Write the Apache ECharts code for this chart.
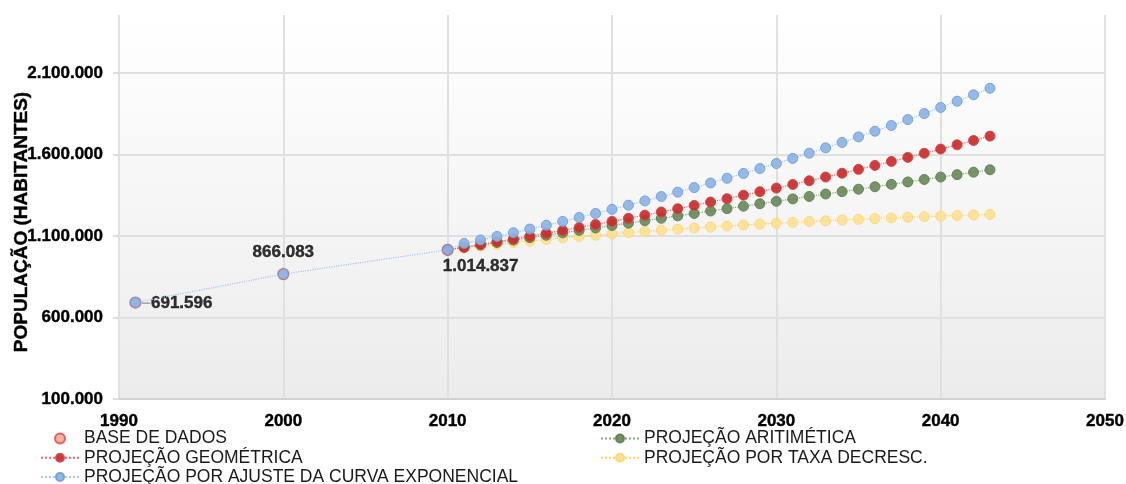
<!DOCTYPE html>
<html>
<head>
<meta charset="utf-8">
<script src="https://cdn.jsdelivr.net/npm/echarts@6/dist/echarts.min.js"></script>
<style>
html,body{margin:0;padding:0;background:#fff;}
#c{width:1126px;height:484px;}
</style>
</head>
<body>
<div id="c"></div>
<script>
// ---- data ----
const baseYears = [1991, 2000, 2010];
const baseValues = [691596, 866083, 1014837];

const projYears = [2010, 2011, 2012, 2013, 2014, 2015, 2016, 2017, 2018, 2019, 2020,
  2021, 2022, 2023, 2024, 2025, 2026, 2027, 2028, 2029, 2030,
  2031, 2032, 2033, 2034, 2035, 2036, 2037, 2038, 2039, 2040, 2041, 2042, 2043];

const geomValues = [1014837, 1031051, 1047524, 1064260, 1081263, 1098538, 1116089, 1133920, 1152036, 1170442, 1189141,
  1208140, 1227442, 1247053, 1266977, 1287219, 1307785, 1328679, 1349907, 1371474, 1393380,
  1415642, 1438259, 1461238, 1484584, 1508303, 1532401, 1556884, 1581758, 1607030, 1632687,
  1658763, 1685265, 1712190];

const aritValues = [1014837, 1029712, 1044588, 1059463, 1074339, 1089214, 1104089, 1118965, 1133840, 1148716, 1163591,
  1178466, 1193342, 1208217, 1223093, 1237968, 1252843, 1267719, 1282594, 1297470, 1312345,
  1327220, 1342096, 1356971, 1371847, 1386722, 1401597, 1416473, 1431348, 1446224, 1461099,
  1475974, 1490850, 1505725];

const taxaValues = [1014837, 1026487, 1037676, 1048423, 1058747, 1068662, 1078186, 1087334, 1096120, 1104560, 1112666,
  1120453, 1127931, 1135115, 1142014, 1148642, 1155007, 1161121, 1166994, 1172635, 1178053,
  1183257, 1188256, 1193057, 1197668, 1202098, 1206352, 1210439, 1214364, 1218134, 1221756,
  1225234, 1228575, 1231784];

const expYears = [1991, 2000, 2010, 2011, 2012, 2013, 2014, 2015, 2016, 2017, 2018, 2019, 2020,
  2021, 2022, 2023, 2024, 2025, 2026, 2027, 2028, 2029, 2030,
  2031, 2032, 2033, 2034, 2035, 2036, 2037, 2038, 2039, 2040, 2041, 2042, 2043];
const expValues = [691596, 866083, 1014837, 1053917, 1075319, 1097156, 1119436, 1142168, 1165362, 1189026, 1213171, 1237808, 1262944,
  1288590, 1314757, 1341455, 1368696, 1396490, 1424848, 1453782, 1483304, 1513425, 1544158,
  1575515, 1607508, 1640152, 1673459, 1707442, 1742115, 1777492, 1813587, 1850416, 1887993,
  1926333, 1965450, 2005362];

const yTicks = [100000, 600000, 1100000, 1600000, 2100000];
const xTicks = [1990, 2000, 2010, 2020, 2030, 2040, 2050];

const names = {
  base: 'BASE DE DADOS',
  geom: 'PROJEÇÃO GEOMÉTRICA',
  exp: 'PROJEÇÃO POR AJUSTE DA CURVA EXPONENCIAL',
  arit: 'PROJEÇÃO ARITIMÉTICA',
  taxa: 'PROJEÇÃO POR TAXA DECRESC.'
};

// ---- helpers ----
function fmt(v) {
  return String(Math.round(v)).replace(/\B(?=(\d{3})+(?!\d))/g, '.');
}
function pairs(xs, ys) { return xs.map((x, i) => [x, ys[i]]); }

const FONT = "'Liberation Sans', Arial, Helvetica, sans-serif";
const BOLD = { fontFamily: FONT, fontWeight: 'bold', fontSize: 17, color: '#000', textBorderColor: '#000', textBorderWidth: 0.4 };

function lineSeries(name, xs, ys, fill, border, lineColor, z) {
  return {
    name: name,
    type: 'line',
    data: pairs(xs, ys),
    symbol: 'circle',
    symbolSize: 10,
    z: z,
    lineStyle: { color: lineColor, width: 1.2, type: 'dotted' },
    itemStyle: { color: fill, borderColor: border, borderWidth: 1, opacity: 0.92 },
    emphasis: { disabled: true },
    animation: false
  };
}

const labelPos = [
  { position: 'right', distance: 0, offset: [0, 1], text: '{d|–}{v|' + fmt(baseValues[0]) + '}' },
  { position: 'top', distance: 6, offset: [0, -1], text: '{v|' + fmt(baseValues[1]) + '}' },
  { position: 'bottom', distance: 2, offset: [33, 0], text: '{v|' + fmt(baseValues[2]) + '}' }
];

const baseData = baseYears.map((y, i) => ({
  value: [y, baseValues[i]],
  label: {
    show: true,
    position: labelPos[i].position,
    distance: labelPos[i].distance,
    offset: labelPos[i].offset,
    formatter: labelPos[i].text,
    rich: {
      d: { fontFamily: FONT, fontWeight: 'bold', fontSize: 17, color: '#9a9a9a' },
      v: BOLD
    }
  }
}));

const option = {
  backgroundColor: '#ffffff',
  animation: false,
  textStyle: { fontFamily: FONT },
  grid: {
    left: 119, right: 21, top: 15, bottom: 85,
    outerBoundsMode: 'none',
    containLabel: false,
    show: true,
    borderWidth: 0,
    backgroundColor: {
      type: 'linear', x: 0, y: 0, x2: 0, y2: 1,
      colorStops: [{ offset: 0, color: '#ffffff' }, { offset: 1, color: '#ececec' }]
    }
  },
  xAxis: {
    type: 'value',
    min: xTicks[0], max: xTicks[xTicks.length - 1], interval: 10,
    axisLine: { show: true, lineStyle: { color: '#d2d2d2', width: 2 } },
    axisTick: { show: false },
    axisLabel: Object.assign({}, BOLD, { margin: 14, formatter: v => String(v) }),
    splitLine: { show: true, lineStyle: { color: '#e0e0e0', width: 2 } }
  },
  yAxis: {
    type: 'value',
    min: 100000, max: 2455000, interval: 500000,
    name: 'POPULAÇÃO (HABITANTES)',
    nameLocation: 'middle',
    nameRotate: 90,
    nameGap: 88,
    nameMoveOverlap: false,
    nameTextStyle: { fontFamily: FONT, fontWeight: 'bold', fontSize: 19, color: '#000', textBorderColor: '#000', textBorderWidth: 0.4, padding: [0, 30, 0, 0] },
    axisLine: { show: false },
    axisTick: { show: true, length: 6, lineStyle: { color: '#dddddd', width: 2 }, customValues: yTicks },
    axisLabel: Object.assign({}, BOLD, { margin: 16, customValues: yTicks, formatter: v => fmt(v) }),
    splitLine: { show: true, lineStyle: { color: '#e0e0e0', width: 2 } }
  },
  legend: [
    {
      orient: 'vertical', left: 40, top: 429.5, height: 70,
      padding: 0,
      itemWidth: 38, itemHeight: 10, itemGap: 1.2,
      data: [names.base, names.geom, names.exp],
      textStyle: { fontFamily: FONT, fontSize: 17.5, color: '#1a1a1a', lineHeight: 17 }
    },
    {
      orient: 'vertical', left: 600, top: 429.5, height: 70,
      padding: 0,
      itemWidth: 38, itemHeight: 10, itemGap: 1.2,
      data: [names.arit, names.taxa],
      textStyle: { fontFamily: FONT, fontSize: 17.5, color: '#1a1a1a', lineHeight: 17 }
    }
  ],
  series: [
    {
      name: names.base,
      type: 'scatter',
      symbol: 'circle',
      symbolSize: 11,
      z: 2,
      itemStyle: { color: '#f4a08e', borderColor: '#e8403a', borderWidth: 1.2 },
      data: baseData,
      emphasis: { disabled: true }
    },
    lineSeries(names.taxa, projYears, taxaValues, '#ffe195', '#ffd76e', '#ffd55c', 3),
    lineSeries(names.arit, projYears, aritValues, '#6b8a5b', '#5f7f50', '#8aa67c', 4),
    lineSeries(names.geom, projYears, geomValues, '#cc2b2b', '#d24444', '#e06a6a', 5),
    lineSeries(names.exp, expYears, expValues, '#8cb4e6', '#6e9edb', '#a5c6ee', 6)
  ]
};

const chart = echarts.init(document.getElementById('c'), null, { renderer: 'canvas' });
chart.setOption(option);
</script>
</body>
</html>
